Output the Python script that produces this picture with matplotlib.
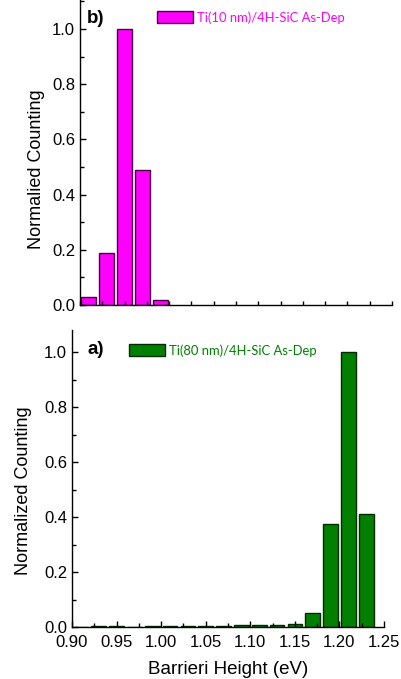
import matplotlib
matplotlib.use("Agg")
import matplotlib.pyplot as plt
from matplotlib.ticker import MultipleLocator, FormatStrFormatter

plt.rcParams['font.family'] = ['Liberation Sans', 'DejaVu Sans']

# Data
bins_top = [0.91, 0.93, 0.95, 0.97, 0.99]
counts_top = [0.030, 0.187, 1.0, 0.49, 0.018]
label_top = "Ti(10 nm)/4H-SiC As-Dep"

bins_bot = [0.91, 0.93, 0.95, 0.97, 0.99, 1.01, 1.03, 1.05, 1.07, 1.09, 1.11,
            1.13, 1.15, 1.17, 1.19, 1.21, 1.23]
counts_bot = [0.001, 0.003, 0.003, 0.001, 0.002, 0.002, 0.003, 0.003, 0.003,
              0.006, 0.006, 0.006, 0.012, 0.052, 0.373, 1.0, 0.41]
label_bot = "Ti(80 nm)/4H-SiC As-Dep"

W, H = 401, 679
fig = plt.figure(figsize=(W / 100, H / 100), dpi=100)

def px(x0, y0, x1, y1):
    return [x0 / W, 1 - y1 / H, (x1 - x0) / W, (y1 - y0) / H]

ax_top = fig.add_axes(px(80, 0, 392, 305))
ax_bot = fig.add_axes(px(72, 330, 384, 627))

def style(ax, ymax, show_xlabels):
    ax.set_xlim(0.90, 1.25)
    ax.set_ylim(0, ymax)
    for s in ['top', 'right']:
        ax.spines[s].set_visible(False)
    for s in ['left', 'bottom']:
        ax.spines[s].set_linewidth(1.0)
        ax.spines[s].set_color('black')
    ax.yaxis.set_major_locator(MultipleLocator(0.2))
    ax.yaxis.set_minor_locator(MultipleLocator(0.1))
    ax.yaxis.set_major_formatter(FormatStrFormatter('%.1f'))
    ax.xaxis.set_major_locator(MultipleLocator(0.05))
    ax.xaxis.set_minor_locator(MultipleLocator(0.025))
    ax.xaxis.set_major_formatter(FormatStrFormatter('%.2f'))
    ax.tick_params(which='major', direction='in', length=4, width=1)
    ax.tick_params(which='minor', direction='in', length=3, width=1)
    ax.tick_params(axis='y', which='major', labelsize=12, pad=3.5)
    ax.tick_params(axis='x', which='major', labelsize=12, pad=6)
    if not show_xlabels:
        ax.tick_params(axis='x', which='major', length=3, labelbottom=False)

style(ax_top, 1.105, False)
style(ax_bot, 1.08, True)

ax_top.bar(bins_top, counts_top, width=0.0168, color='#FF00FF',
           edgecolor='#4a0040', linewidth=1.0, label=label_top)
ax_bot.bar(bins_bot, counts_bot, width=0.0165, color='#007F00',
           edgecolor='#002a00', linewidth=1.0, label=label_bot)

ax_top.set_ylabel("Normalied Counting", fontsize=13)
ax_bot.set_ylabel("Normalized Counting", fontsize=13)
ax_top.yaxis.set_label_coords(-35 / 312, 0.446)
ax_bot.yaxis.set_label_coords(-40 / 312, 0.458)
ax_bot.set_xlabel("Barrieri Height (eV)", fontsize=13.5, labelpad=8)

fig.text(87 / W, 1 - 10 / H, "b)", fontsize=13.5, fontweight='bold', va='top', ha='left')
fig.text(88 / W, 1 - 341 / H, "a)", fontsize=13.5, fontweight='bold', va='top', ha='left')

leg_kw = dict(frameon=False, loc='upper left', borderpad=0, borderaxespad=0,
              handlelength=2.75, handleheight=1.0, handletextpad=0.3,
              prop={'family': 'Lato', 'size': 9.4})
ax_top.legend(bbox_to_anchor=(157 / W, 1 - 11 / H),
              bbox_transform=fig.transFigure, labelcolor='#FF00FF', **leg_kw)
ax_bot.legend(bbox_to_anchor=(129 / W, 1 - 344 / H),
              bbox_transform=fig.transFigure, labelcolor='#008000', **leg_kw)

fig.savefig("out.png", dpi=100)
